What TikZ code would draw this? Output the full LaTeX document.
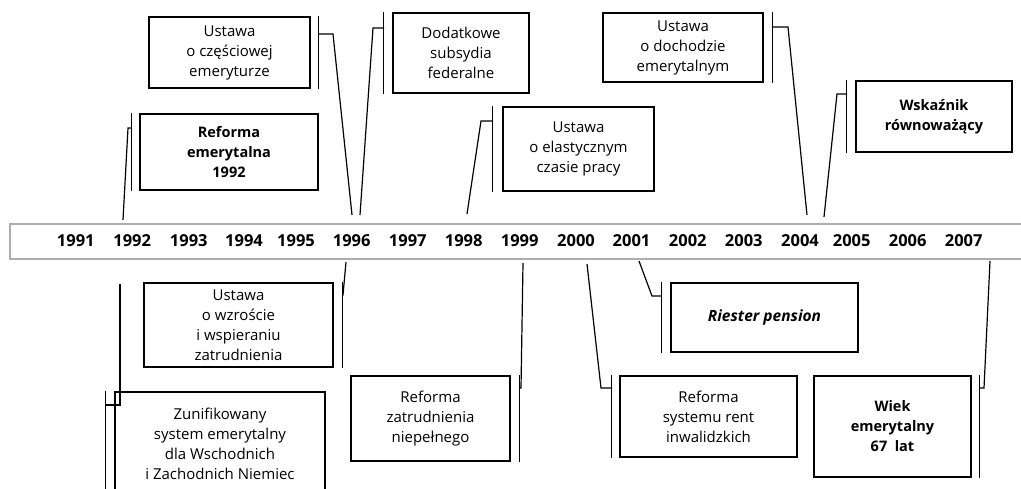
\documentclass[tikz,border=0pt]{standalone}
\usepackage{fontspec}
\setmainfont{Open Sans}
\begin{document}
\begin{tikzpicture}[x=1pt,y=-1pt,
  box/.style={draw=black, line width=1.4pt, align=center, inner sep=0pt,
    font=\fontsize{15}{20}\selectfont},
  boldbox/.style={box, font=\fontsize{14.5}{20}\selectfont\bfseries},
  year/.style={anchor=base, inner sep=0pt, font=\fontsize{16.5}{20}\selectfont\bfseries},
  conn/.style={draw=black, line width=1.2pt, line join=miter},
  brk/.style={draw=black, line width=1.3pt},
  barline/.style={draw=black!32, line width=1.4pt, fill=white}]
\useasboundingbox (0,0) rectangle (1021,489);

% time bar
\draw[barline] (10,224) rectangle (1040,259);
\foreach \yr/\xx in {1991/75.8,1992/132.2,1993/188.8,1994/244,1995/296,1996/351.7,1997/407.8,1998/463.7,1999/519.7,2000/576,2001/631.5,2002/687.8,2003/743.8,2004/800,2005/851.7,2006/907.7,2007/963.7}
  \node[year] (y\yr) at (\xx,246.5) {\yr};

% boxes above the bar
\node[box, minimum width=161pt, minimum height=71pt] (A) at (229.5,52.5) {Ustawa\\o częściowej\\emeryturze};
\node[box, minimum width=136pt, minimum height=80pt] (B) at (461,53) {Dodatkowe\\subsydia\\federalne};
\node[boldbox, minimum width=178pt, minimum height=76pt] (C) at (229,152) {Reforma\\emerytalna\\1992};
\node[box, minimum width=151pt, minimum height=84pt] (D) at (578.5,149) {Ustawa\\o elastycznym\\czasie pracy};
\node[box, minimum width=160pt, minimum height=69pt] (E) at (683,47.5) {Ustawa\\o dochodzie\\emerytalnym};
\node[boldbox, minimum width=156pt, minimum height=71pt] (F) at (934,116.5) {Wskaźnik\\równoważący};

% boxes below the bar
\node[box, minimum width=189pt, minimum height=84pt] (G) at (238.5,325) {Ustawa\\o wzroście\\i wspieraniu\\zatrudnienia};
\node[box, minimum width=210pt, minimum height=104pt] (H) at (220,444) {Zunifikowany\\system emerytalny\\dla Wschodnich\\i Zachodnich Niemiec};
\node[box, minimum width=159pt, minimum height=85pt] (I) at (430.5,418.5) {Reforma\\zatrudnienia\\niepełnego};
\node[box, minimum width=177pt, minimum height=81pt] (J) at (708.5,416.5) {Reforma\\systemu rent\\inwalidzkich};
\node[box, minimum width=187pt, minimum height=69pt, font=\fontsize{15.5}{20}\selectfont\bfseries\itshape] (K) at (764.5,317.5) {Riester pension};
\node[boldbox, minimum width=157pt, minimum height=101pt] (L) at (892.5,426.5) {Wiek\\emerytalny\\67~~lat};

% bracket lines beside the boxes
\draw[brk] ([xshift=8pt]A.north east) -- ([xshift=8pt]A.south east);
\draw[brk] ([xshift=-9pt]B.north west) -- ([xshift=-9pt]B.south west);
\draw[brk] ([xshift=-8pt]C.north west) -- ([xshift=-8pt]C.south west);
\draw[brk] ([xshift=-10pt]D.north west) -- ([xshift=-10pt]D.south west);
\draw[brk] ([xshift=9pt]E.north east) -- ([xshift=9pt]E.south east);
\draw[brk] ([xshift=-9pt]F.north west) -- ([xshift=-9pt]F.south west);
\draw[brk] ([xshift=9pt]G.north east) -- ([xshift=9pt]G.south east);
\draw[brk] ([xshift=-9pt]H.north west) -- ([xshift=-9pt]H.south west);
\draw[brk] ([xshift=9pt]I.north east) -- ([xshift=9pt]I.south east);
\draw[brk] ([xshift=-8pt]J.north west) -- ([xshift=-8pt]J.south west);
\draw[brk] ([xshift=-9pt]K.north west) -- ([xshift=-9pt]K.south west);
\draw[brk] ([xshift=8pt]L.north east) -- ([xshift=8pt]L.south east);

% connector points
\coordinate (sA) at (352,215); \coordinate (kA) at (333,34);  \coordinate (eA) at (318,34);
\coordinate (sB) at (360,215); \coordinate (kB) at (373,28);  \coordinate (eB) at (384,28);
\coordinate (sC) at (123,220); \coordinate (kC) at (128,128); \coordinate (eC) at (132,128);
\coordinate (sD) at (467,214); \coordinate (kD) at (481,121); \coordinate (eD) at (493,121);
\coordinate (sE) at (807,215); \coordinate (kE) at (788,27);  \coordinate (eE) at (772,27);
\coordinate (sF) at (824,217); \coordinate (kF) at (837,94);  \coordinate (eF) at (847,94);
\coordinate (sG) at (346,262); \coordinate (kG) at (343,295); \coordinate (eG) at (342,295);
\coordinate (sH) at (120,284); \coordinate (kH) at (120,405); \coordinate (eH) at (106,405);
\coordinate (sI) at (523,263); \coordinate (kI) at (521,388); \coordinate (eI) at (519,388);
\coordinate (sJ) at (587,264); \coordinate (kJ) at (601,388); \coordinate (eJ) at (612,388);
\coordinate (sK) at (639,261); \coordinate (kK) at (652,296); \coordinate (eK) at (662,296);
\coordinate (sL) at (990,261); \coordinate (kL) at (984,388); \coordinate (eL) at (979,388);

\foreach \c in {A,B,C,D,E,F,G,H,I,J,K,L}
  \draw[conn] (s\c) -- (k\c) -- (e\c);
\end{tikzpicture}
\end{document}
